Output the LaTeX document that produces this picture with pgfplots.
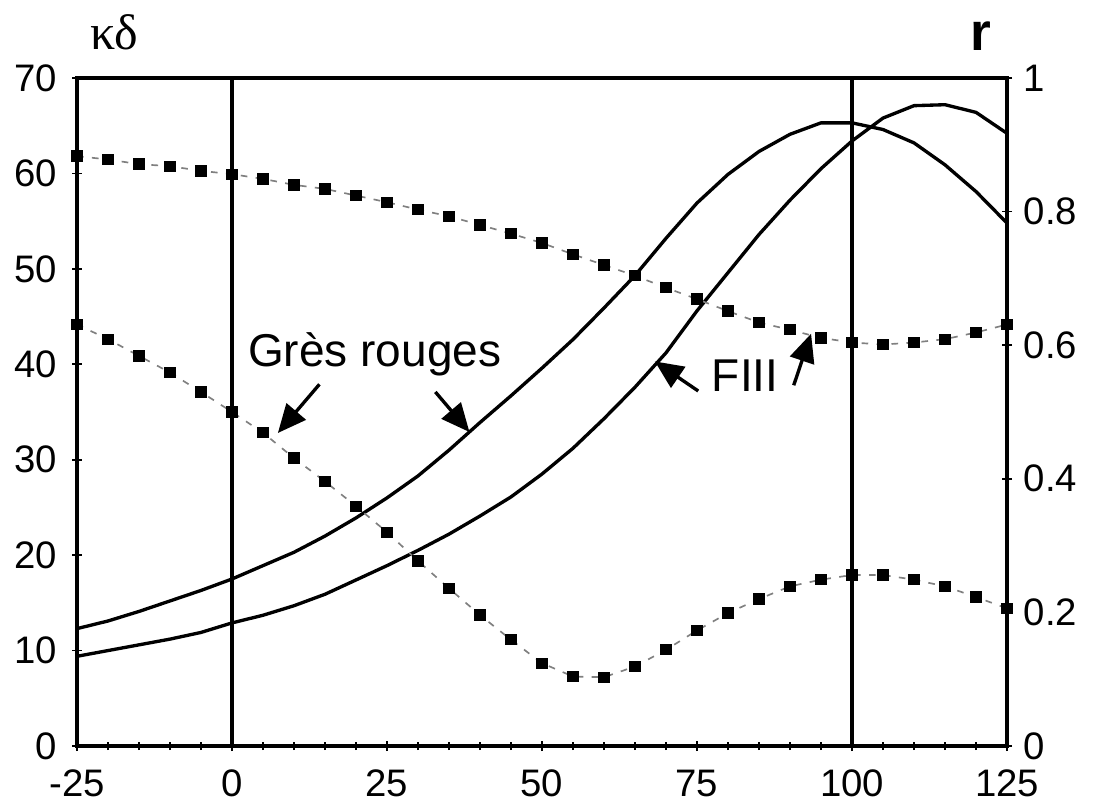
\documentclass[border=0pt]{standalone}
\usepackage{fontspec}
\setmainfont{Liberation Sans}
\newfontfamily\greekserif{Liberation Serif}
\usepackage{pgfplots}
\usepackage{pgfplotstable}
\pgfplotsset{compat=1.18}
\usetikzlibrary{arrows.meta}

% kappa-delta curves (left axis)
\pgfplotstableread{
x    gres  fiii
-25  12.3  9.4
-20  13.1  10.0
-15  14.1  10.6
-10  15.2  11.2
-5   16.3  11.9
0    17.5  12.9
5    18.9  13.7
10   20.3  14.7
15   22.0  15.9
20   23.9  17.4
25   26.0  18.9
30   28.3  20.5
35   31.0  22.2
40   33.9  24.1
45   36.7  26.1
50   39.6  28.5
55   42.6  31.2
60   45.9  34.3
65   49.3  37.6
70   53.2  41.2
75   56.9  45.6
80   59.9  49.6
85   62.3  53.6
90   64.1  57.2
95   65.3  60.5
100  65.3  63.4
105  64.6  65.8
110  63.2  67.1
115  60.9  67.2
120  58.1  66.4
125  54.8  64.2
}\kdtable

% r curves (right axis)
\pgfplotstableread{
x    gres   fiii
-25  0.631  0.883
-20  0.609  0.878
-15  0.584  0.871
-10  0.559  0.868
-5   0.530  0.861
0    0.500  0.856
5    0.469  0.849
10   0.431  0.840
15   0.396  0.834
20   0.359  0.824
25   0.320  0.814
30   0.277  0.803
35   0.236  0.793
40   0.196  0.780
45   0.159  0.767
50   0.124  0.753
55   0.104  0.736
60   0.103  0.720
65   0.119  0.704
70   0.144  0.686
75   0.173  0.669
80   0.199  0.651
85   0.220  0.634
90   0.239  0.623
95   0.249  0.611
100  0.256  0.604
105  0.256  0.601
110  0.249  0.604
115  0.239  0.609
120  0.223  0.619
125  0.206  0.631
}\rtable

\begin{document}
\begin{tikzpicture}
\pgfplotsset{
  every axis/.append style={
    scale only axis, width=279pt, height=200.4pt,
    xmin=-25, xmax=125,
    tick align=center,
    major tick length=3pt, minor tick length=2.4pt,
    every tick/.style={black, line width=0.5pt},
    tick label style={font=\fontsize{11.5}{13}\selectfont},
    /pgf/number format/assume math mode=true,
  }
}
\begin{axis}[
  name=main,
  ymin=0, ymax=70,
  axis line style={line width=1pt},
  xtick={-25,0,25,50,75,100,125},
  minor x tick num=4,
  ytick={0,10,...,70},
  xtick pos=lower, ytick pos=left,
  xticklabel style={inner ysep=0.4pt, yshift=-5pt},
  yticklabel style={xshift=-1pt},
  clip=false,
]
\addplot[black, line width=1pt] coordinates {(0,0) (0,70)};
\addplot[black, line width=1pt] coordinates {(100,0) (100,70)};
\addplot[black, line width=1pt] table[x=x, y=gres] {\kdtable};
\addplot[black, line width=1pt] table[x=x, y=fiii] {\kdtable};

\node[anchor=base west, font=\fontsize{13.8}{16}\selectfont, inner sep=0pt]
  at (axis cs:2.5,39.8) {Grès rouges};
\node[anchor=base west, font=\fontsize{13.8}{16}\selectfont, inner sep=0pt]
  at (axis cs:77.3,37.2) {FIII};
\draw[-{Triangle[length=8.5pt,width=7.5pt]}, line width=1pt]
  (axis cs:14.1,37.9) -- (axis cs:7.4,32.8);
\draw[-{Triangle[length=8.5pt,width=7.5pt]}, line width=1pt]
  (axis cs:32.8,37.1) -- (axis cs:38.3,32.9);
\draw[-{Triangle[length=8.5pt,width=7.5pt]}, line width=1pt]
  (axis cs:75.2,37.2) -- (axis cs:68.2,40.3);
\draw[-{Triangle[length=8.5pt,width=7.5pt]}, line width=1pt]
  (axis cs:90.6,37.8) -- (axis cs:93.4,43.2);
\end{axis}

\begin{axis}[
  ymin=0, ymax=1,
  axis x line=none,
  axis y line*=right,
  axis line style={line width=1pt},
  ytick={0,0.2,0.4,0.6,0.8,1},
  clip=false,
]
\addplot[gray, line width=0.5pt, dash pattern=on 2pt off 2.5pt,
  mark=square*, mark size=1.45pt,
  mark options={solid, fill=black, draw=black}]
  table[x=x, y=fiii] {\rtable};
\addplot[gray, line width=0.5pt, dash pattern=on 2pt off 2.5pt,
  mark=square*, mark size=1.45pt,
  mark options={solid, fill=black, draw=black}]
  table[x=x, y=gres] {\rtable};
\end{axis}

\node[anchor=base west, inner sep=0pt, font=\greekserif\fontsize{15}{17}\selectfont]
  at (3.9pt,208.8pt) {κδ};
\node[anchor=base west, inner sep=0pt, font=\bfseries\fontsize{16}{18}\selectfont]
  at (267.9pt,208.5pt) {r};

\pgfresetboundingbox
\path (-23.1pt,-17.1pt) rectangle (306pt,223.8pt);
\end{tikzpicture}
\end{document}
